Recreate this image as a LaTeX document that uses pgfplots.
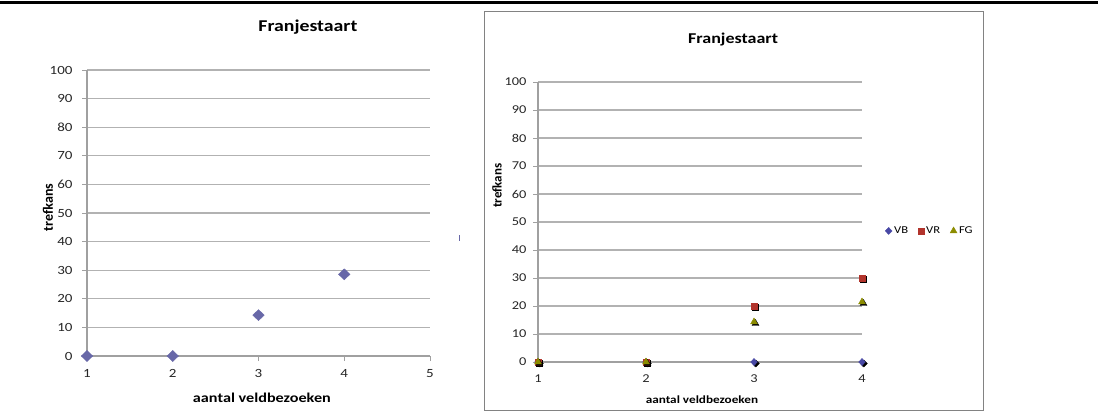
\documentclass[border=0pt]{standalone}
\usepackage{fontspec}
\setmainfont{Carlito}
\newfontfamily\wfont[FakeStretch=1.2]{Carlito}
\usepackage{pgfplots}
\pgfplotsset{compat=1.18}

\definecolor{gridgray}{RGB}{178,178,178}
\definecolor{axisgray}{RGB}{160,160,160}
\definecolor{framegray}{RGB}{130,130,130}
\definecolor{diamondblue}{RGB}{104,104,168}
\definecolor{vbblue}{RGB}{72,72,165}
\definecolor{vrred}{RGB}{178,52,44}
\definecolor{fgolive}{RGB}{140,140,0}

\pgfplotsset{
  excelscatter/.style={
    scale only axis,
    clip=false,
    axis lines*=left,
    axis line style={axisgray, line width=1.2pt},
    ymin=0, ymax=100, ytick={0,10,...,100},
    ymajorgrids,
    major grid style={gridgray, line width=1.2pt},
    tick align=outside,
    major tick length=5pt,
    every tick/.style={axisgray, line width=1pt},
    /pgf/number format/assume math mode=true,
    tick label style={font=\fontsize{12.5}{14}\wfont, text=black!85},
  },
}

\begin{document}
\begin{tikzpicture}
\path[use as bounding box] (0pt,0pt) rectangle (1098pt,-412pt);
\draw[line width=2.5pt] (0pt,-2.5pt) -- (1098pt,-2.5pt);
\draw[framegray, line width=1pt] (484pt,-12pt) rectangle (983pt,-410pt);
\draw[diamondblue, line width=1pt] (459pt,-235pt) -- (459pt,-241pt);

% first chart: one series
\begin{axis}[excelscatter,
  at={(87pt,-356pt)}, anchor=south west,
  width=343pt, height=286pt,
  xmin=1, xmax=5, xtick={1,2,3,4,5},
  yticklabel style={xshift=-6pt},
  xticklabel style={yshift=-5pt},
  title={Franjestaart},
  title style={at={(0.644,1)}, anchor=center, yshift=37pt, font=\fontsize{16.5}{18}\wfont\bfseries},
  xlabel={aantal veldbezoeken},
  xlabel style={at={(0.51,0)}, anchor=center, yshift=-42pt, font=\fontsize{13.5}{15}\wfont\bfseries},
  ylabel={trefkans},
  ylabel style={at={(-0.1137,0.52)}, anchor=center, font=\fontsize{14}{16}\selectfont\bfseries},
]
\addplot[only marks, mark=diamond*, mark size=5.5pt, mark options={xscale=1.4}, draw=diamondblue, fill=diamondblue]
  coordinates {(1,0) (2,0) (3,14.29) (4,28.57)};
\end{axis}

% second chart: three series with shadowed marks
\begin{axis}[excelscatter,
  at={(538pt,-362pt)}, anchor=south west,
  width=324pt, height=280pt,
  xmin=1, xmax=4, xtick={1,2,3,4},
  tick label style={font=\fontsize{12}{14}\wfont, text=black!85},
  yticklabel style={xshift=-3pt},
  xticklabel style={yshift=-4pt},
  title={Franjestaart},
  title style={at={(0.602,1)}, anchor=center, yshift=36pt, font=\fontsize{15}{17}\wfont\bfseries},
  xlabel={aantal veldbezoeken},
  xlabel style={at={(0.506,0)}, anchor=center, yshift=-38pt, font=\fontsize{11}{13}\wfont\bfseries},
  ylabel={trefkans},
  ylabel style={at={(-0.1265,0.63)}, anchor=center, font=\fontsize{13}{15}\selectfont\bfseries},
  legend columns=3,
  legend style={draw=none, fill=none, at={(1.062,0.468)}, anchor=west,
    font=\fontsize{10.5}{12}\wfont, /tikz/every even column/.append style={column sep=8pt}},
]
\addplot[only marks, mark=diamond*, mark size=3.5pt, black, mark options={xscale=1.3, xshift=1.5pt, yshift=-1.5pt}, forget plot]
  coordinates {(1,0) (2,0) (3,0) (4,0)};
\addplot[only marks, mark=diamond*, mark size=3.5pt, mark options={xscale=1.3}, draw=vbblue, fill=vbblue]
  coordinates {(1,0) (2,0) (3,0) (4,0)};
\addlegendentry{VB}
\addplot[only marks, mark=square*, mark size=3pt, black, mark options={xshift=1.5pt, yshift=-1.5pt}, forget plot]
  coordinates {(1,0) (2,0) (3,20) (4,30)};
\addplot[only marks, mark=square*, mark size=3pt, draw=vrred, fill=vrred]
  coordinates {(1,0) (2,0) (3,20) (4,30)};
\addlegendentry{VR}
\addplot[only marks, mark=triangle*, mark size=4pt, black, mark options={xshift=1.5pt, yshift=-1.5pt}, forget plot]
  coordinates {(1,0) (2,0) (3,14.29) (4,21.43)};
\addplot[only marks, mark=triangle*, mark size=4pt, draw=fgolive, fill=fgolive]
  coordinates {(1,0) (2,0) (3,14.29) (4,21.43)};
\addlegendentry{FG}
\end{axis}
\end{tikzpicture}
\end{document}
